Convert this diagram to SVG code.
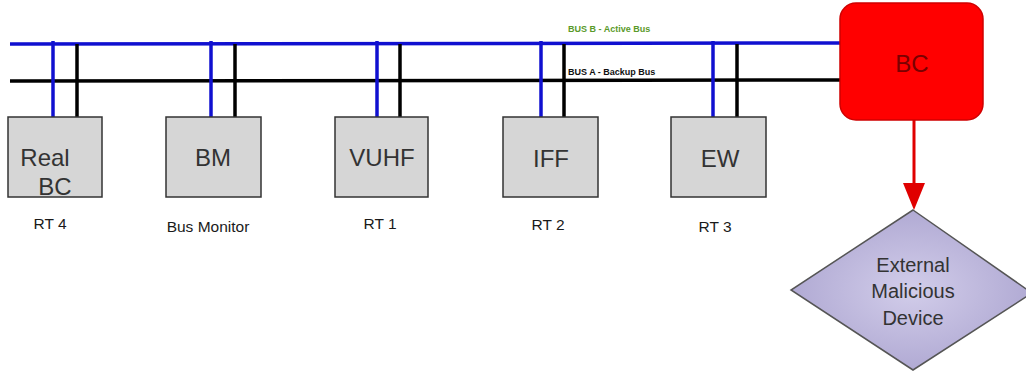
<svg xmlns="http://www.w3.org/2000/svg" width="1026" height="376" viewBox="0 0 1026 376">
<style>
.box{fill:#d6d6d6;stroke:#333;stroke-width:1.5}
.bt{font-family:"Liberation Sans",Arial,sans-serif;font-size:24px;fill:#333;text-anchor:middle}
.lbl{font-family:"Liberation Sans",Arial,sans-serif;font-size:15.5px;fill:#1a1a1a;text-anchor:middle}
.blue{stroke:#1010d0;stroke-width:3.5;fill:none}
.black{stroke:#000;stroke-width:3.5;fill:none}
.bus{font-family:"Liberation Sans",Arial,sans-serif;font-size:9px;font-weight:bold}
</style>
<defs>
<radialGradient id="dg" cx="0.5" cy="0.5" r="0.6">
<stop offset="0" stop-color="#d2cdea"/>
<stop offset="1" stop-color="#aaa3cf"/>
</radialGradient>
</defs>
<rect width="1026" height="376" fill="#fff"/>
<g id="connectors">
<line class="blue" x1="10" y1="44" x2="842" y2="43"/>
<line class="black" x1="10" y1="81" x2="842" y2="80"/>
<line class="blue" x1="53" y1="41" x2="53" y2="117"/>
<line class="black" x1="77" y1="44" x2="77" y2="117"/>
<line class="blue" x1="211" y1="41" x2="211" y2="117"/>
<line class="black" x1="235" y1="44" x2="235" y2="117"/>
<line class="blue" x1="377" y1="41" x2="377" y2="117"/>
<line class="black" x1="400" y1="44" x2="400" y2="117"/>
<line class="blue" x1="541" y1="41" x2="541" y2="117"/>
<line class="black" x1="564" y1="44" x2="564" y2="117"/>
<line class="blue" x1="713" y1="41" x2="713" y2="117"/>
<line class="black" x1="737" y1="44" x2="737" y2="117"/>
<line x1="914" y1="120" x2="914" y2="186" stroke="#e00000" stroke-width="3"/>
<path d="M903,183 L925,183 L914,210 Z" fill="#e00000"/>
<text class="bus" x="568" y="32" fill="#5a9a2a">BUS B - Active Bus</text>
<text class="bus" x="568" y="75" fill="#111">BUS A - Backup Bus</text>
</g>
<g id="realbc">
<rect class="box" x="8" y="117" width="94" height="80"/>
<text class="bt" x="45" y="166">Real</text>
<text class="bt" x="55" y="195">BC</text>
<text class="lbl" x="50" y="229">RT 4</text>
</g>
<g id="bm">
<rect class="box" x="166" y="117" width="95" height="80"/>
<text class="bt" x="213" y="166">BM</text>
<text class="lbl" x="208" y="232">Bus Monitor</text>
</g>
<g id="vuhf">
<rect class="box" x="335" y="117" width="93" height="80"/>
<text class="bt" x="382" y="166">VUHF</text>
<text class="lbl" x="380" y="229">RT 1</text>
</g>
<g id="iff">
<rect class="box" x="503" y="117" width="95" height="80"/>
<text class="bt" x="551" y="167">IFF</text>
<text class="lbl" x="548" y="230">RT 2</text>
</g>
<g id="ew">
<rect class="box" x="671" y="117" width="95" height="80"/>
<text class="bt" x="720" y="167">EW</text>
<text class="lbl" x="715" y="232">RT 3</text>
</g>
<g id="bc">
<rect x="840" y="3" width="143" height="117" rx="16" fill="#ff0000" stroke="#d00000" stroke-width="1.5"/>
<text class="bt" x="912" y="72" style="fill:#7a0000">BC</text>
</g>
<g id="external">
<polygon points="913,210 1032,293 913,370 791,290" fill="url(#dg)" stroke="#555" stroke-width="1.5"/>
<text class="bt" x="913" y="272" style="font-size:20px">External</text>
<text class="bt" x="913" y="298" style="font-size:20px">Malicious</text>
<text class="bt" x="913" y="325" style="font-size:20px">Device</text>
</g>
</svg>
